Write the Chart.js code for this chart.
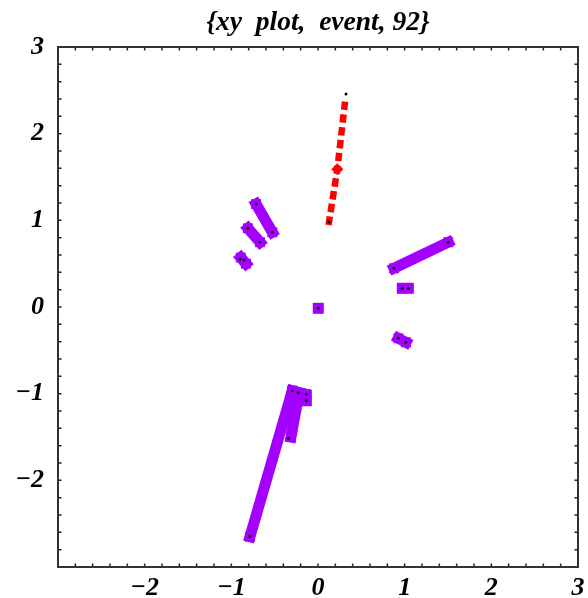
<!DOCTYPE html>
<html>
<head>
<meta charset="utf-8">
<title>xy plot, event 92</title>
<script src="https://cdn.jsdelivr.net/npm/chart.js@4/dist/chart.umd.min.js"></script>
<style>
    body { margin: 0; background: #fff; }
    canvas { display: block; }
</style>
</head>
<body>
<canvas id="eventChart" width="588" height="598"></canvas>
<script>
// Track hits (x, y) for event 92
const trackA = [{ x: -0.715, y: 1.188 }, { x: -0.527, y: 0.862 }];
const trackB = [{ x: -0.808, y: 0.908 }, { x: -0.669, y: 0.747 }];
const trackC = [{ x: -0.891, y: 0.570 }, { x: -0.831, y: 0.500 }];
const trackD = [{ x: 0.877, y: 0.447 }, { x: 1.503, y: 0.747 }];
const trackE = [{ x: 0.973, y: 0.216 }, { x: 1.042, y: 0.216 }];
const trackF = [{ x: 0.927, y: -0.361 }, { x: 1.015, y: -0.407 }];
const trackG = [{ x: 0.003, y: -0.015 }];
const trackH = [{ x: -0.785, y: -2.650 }, { x: -0.297, y: -0.966 }];
const trackI = [{ x: -0.312, y: -1.500 }, { x: -0.219, y: -0.992 }];
const trackJ = [{ x: -0.297, y: -0.966 }, { x: -0.135, y: -1.007 }, { x: -0.135, y: -1.081 }];

// Red (dashed) track, the middle entry is the vertex marker
const redTrack = [{ x: 0.312, y: 2.371 }, { x: 0.223, y: 1.589 }, { x: 0.120, y: 0.935 }];

// Reconstructed points drawn as small black dots
const blackDots = [
    { x: -0.715, y: 1.188 }, { x: -0.527, y: 0.862 },
    { x: -0.808, y: 0.908 }, { x: -0.669, y: 0.747 },
    { x: -0.900, y: 0.554 }, { x: -0.854, y: 0.542 },
    { x: 0.877, y: 0.447 }, { x: 1.503, y: 0.747 },
    { x: 0.973, y: 0.216 }, { x: 1.042, y: 0.216 },
    { x: 0.927, y: -0.361 }, { x: 1.015, y: -0.407 },
    { x: 0.003, y: -0.015 },
    { x: -0.785, y: -2.650 }, { x: -0.342, y: -1.514 },
    { x: -0.297, y: -0.966 }, { x: -0.227, y: -0.989 },
    { x: -0.135, y: -1.007 }, { x: -0.135, y: -1.081 },
    { x: 0.323, y: 2.457 }, { x: 0.127, y: 0.981 }
];

const xTickValues = [-2, -1, 0, 1, 2, 3];
const yTickValues = [-2, -1, 0, 1, 2, 3];

const PURPLE = '#a300ff';
const RED = '#ff0000';
const SERIF = "'Liberation Serif', 'DejaVu Serif', serif";
const tickFont = { family: SERIF, size: 26, style: 'italic', weight: 'bold' };

function purpleTrack(points) {
    return {
        type: 'line',
        data: points,
        showLine: true,
        borderColor: PURPLE,
        borderWidth: 11,
        borderCapStyle: 'square',
        borderJoinStyle: 'miter',
        backgroundColor: PURPLE,
        pointStyle: 'rect',
        pointRadius: 7,
        pointBorderWidth: 0,
        order: 3
    };
}

function formatTick(v) {
    return v < 0 ? '\u2212' + Math.abs(v) : String(v);
}

// frame around the plot area with small inward ticks every 0.2
const frameTicks = {
    id: 'frameTicks',
    afterDraw(chart) {
        const { ctx, chartArea: a, scales } = chart;
        ctx.save();
        ctx.strokeStyle = '#222';
        ctx.lineWidth = 1.5;
        ctx.beginPath();
        for (let i = -15; i <= 15; i++) {
            const v = i / 5;
            const px = scales.x.getPixelForValue(v);
            const py = scales.y.getPixelForValue(v);
            ctx.moveTo(px, a.bottom); ctx.lineTo(px, a.bottom - 3.5);
            ctx.moveTo(px, a.top); ctx.lineTo(px, a.top + 3.5);
            ctx.moveTo(a.left, py); ctx.lineTo(a.left + 3.5, py);
            ctx.moveTo(a.right, py); ctx.lineTo(a.right - 3.5, py);
        }
        ctx.stroke();
        ctx.lineWidth = 2;
        ctx.strokeStyle = '#333';
        ctx.strokeRect(a.left, a.top, a.right - a.left, a.bottom - a.top);
        ctx.restore();
    }
};

const ctx = document.getElementById('eventChart').getContext('2d');
new Chart(ctx, {
    type: 'scatter',
    data: {
        datasets: [
            purpleTrack(trackA), purpleTrack(trackB), purpleTrack(trackC),
            purpleTrack(trackD), purpleTrack(trackE), purpleTrack(trackF),
            purpleTrack(trackG), purpleTrack(trackH), purpleTrack(trackI),
            purpleTrack(trackJ),
            {
                type: 'line',
                data: redTrack,
                showLine: true,
                borderColor: RED,
                borderWidth: 6.5,
                borderDash: [8.4, 4.5],
                backgroundColor: RED,
                pointStyle: 'rectRot',
                pointRadius: c => (c.dataIndex === 1 ? 6 : 0),
                pointBorderWidth: 0,
                order: 2
            },
            {
                data: blackDots,
                backgroundColor: '#000',
                pointRadius: 1.5,
                pointBorderWidth: 0,
                order: 1
            }
        ]
    },
    options: {
        responsive: false,
        animation: false,
        layout: { padding: { right: 10 } },
        plugins: {
            legend: { display: false },
            tooltip: { enabled: false },
            title: {
                display: true,
                fullSize: false,
                text: '{xy  plot,  event, 92}',
                color: '#000',
                font: { family: SERIF, size: 27.5, style: 'italic', weight: 'bold' },
                padding: { top: 6, bottom: 8 }
            }
        },
        scales: {
            x: {
                type: 'linear',
                min: -3,
                max: 3,
                afterBuildTicks: s => { s.ticks = xTickValues.map(v => ({ value: v })); },
                afterFit: s => { s.height = 31; s.paddingRight = 0; s.paddingLeft = 0; },
                grid: { display: false, drawTicks: false },
                border: { display: false },
                ticks: {
                    color: '#000',
                    font: tickFont,
                    padding: 6,
                    maxRotation: 0,
                    autoSkip: false,
                    callback: formatTick
                }
            },
            y: {
                type: 'linear',
                min: -3,
                max: 3,
                afterBuildTicks: s => { s.ticks = yTickValues.map(v => ({ value: v })); },
                afterFit: s => { s.width = 58; s.paddingTop = 0; s.paddingBottom = 0; },
                grid: { display: false, drawTicks: false },
                border: { display: false },
                ticks: {
                    color: '#000',
                    font: tickFont,
                    padding: 14,
                    autoSkip: false,
                    callback: formatTick
                }
            }
        }
    },
    plugins: [frameTicks]
});
</script>
</body>
</html>
